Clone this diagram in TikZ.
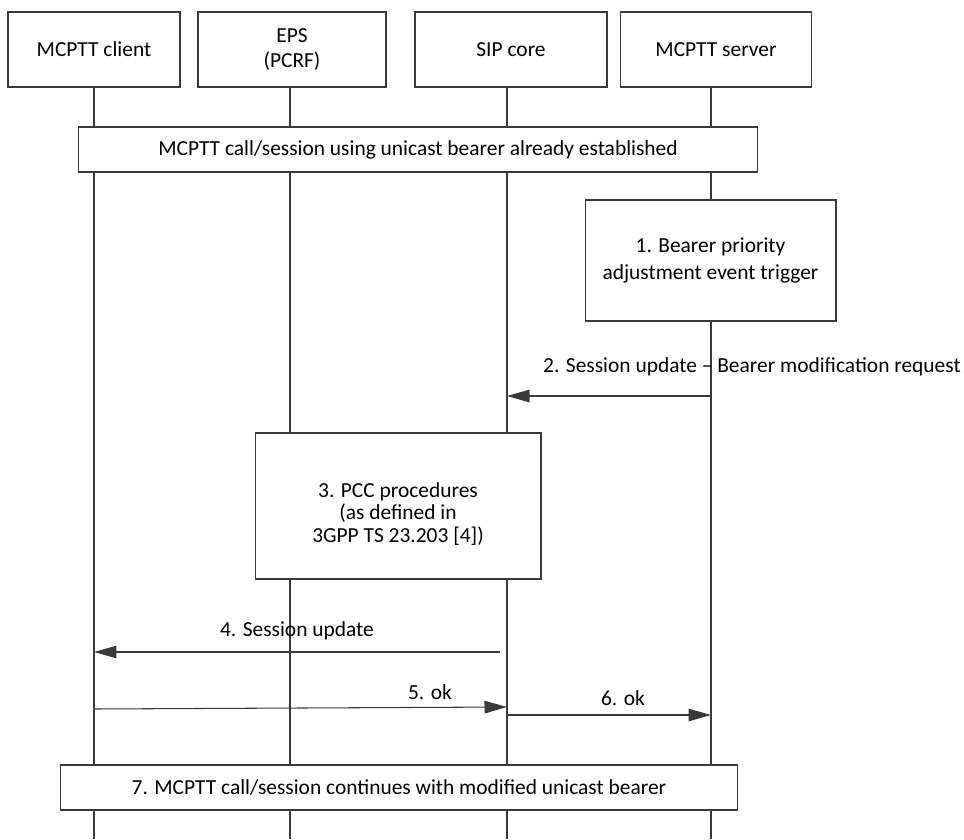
\documentclass[tikz,border=0pt]{standalone}
\usepackage{fontspec}
\setmainfont{Carlito}
\usetikzlibrary{arrows.meta,positioning}
\definecolor{ln}{HTML}{3A3A3A}

\begin{document}
\begin{tikzpicture}[x=0.02cm,y=-0.02cm,
    head/.style={rectangle,draw=ln,fill=white,line width=0.6pt,align=center,minimum height=1.5cm,font=\fontsize{12.2}{14.2}\selectfont},
    blk/.style={rectangle,draw=ln,fill=white,line width=0.6pt,align=center,font=\fontsize{12.2}{12.8}\selectfont},
    life/.style={line width=0.6pt,ln},
    arr/.style={-{Triangle[length=4.5mm,width=2.5mm]},line width=0.6pt,ln},
    lbl/.style={font=\fontsize{12.2}{13}\selectfont},
]
\useasboundingbox (0,0) rectangle (964,839);

% Row 1: lifeline heads
\node[head,minimum width=3.44cm] (client) at (94,49.5) {MCPTT client};
\node[head,minimum width=3.76cm] (eps) at (292,49.5) {EPS\\(PCRF)};
\node[head,minimum width=3.84cm] (sip) at (511,49.5) {SIP core};
\node[head,minimum width=3.82cm] (server) at (716,49.5) {MCPTT server};

% Lifeline ends
\coordinate (clientend) at (94,839);
\coordinate (epsend) at (290,839);
\coordinate (sipend) at (507,839);
\coordinate (serverend) at (711,839);

\draw[life] (client.south -| clientend) -- (clientend);
\draw[life] (eps.south -| epsend) -- (epsend);
\draw[life] (sip.south -| sipend) -- (sipend);
\draw[life] (server.south -| serverend) -- (serverend);

% Boxes over the lifelines
\node[blk,minimum width=13.6cm,minimum height=0.9cm] (est) at (418,149.5) {MCPTT call/session using unicast bearer already established};
\node[blk,minimum width=5.02cm,minimum height=2.42cm,font=\fontsize{12.2}{15.4}\selectfont] (trig) at (710.5,260.5) {1. Bearer priority\\adjustment event trigger};
\node[blk,minimum width=5.72cm,minimum height=2.92cm] (pcc) at (398,506) {\rule{0pt}{0.6cm}3. PCC procedures\\(as defined in\\3GPP TS 23.203 [4])};
\node[blk,minimum width=13.56cm,minimum height=0.9cm] (cont) at (399,787.5) {7. MCPTT call/session continues with modified unicast bearer};

% Message ends
\coordinate (m2a) at (711,396);
\coordinate (m2b) at (507,396);
\coordinate (m4a) at (500,652);
\coordinate (m4b) at (94,652);
\coordinate (m5a) at (94,709);
\coordinate (m5b) at (507,707);
\coordinate (m6a) at (507,715);
\coordinate (m6b) at (711,715);

% Messages
\draw[arr] (m2a) -- (m2b);
\node[lbl] (l2) at (752,367) {2. Session update -- Bearer modification request};
\draw[arr] (m4a) -- (m4b);
\node[lbl] (l4) at (297,631) {4. Session update};
\draw[arr] (m5a) -- (m5b);
\node[lbl] (l5) at (430,692) {5. ok};
\draw[arr] (m6a) -- (m6b);
\node[lbl] (l6) at (623,698) {6. ok};
\end{tikzpicture}
\end{document}
